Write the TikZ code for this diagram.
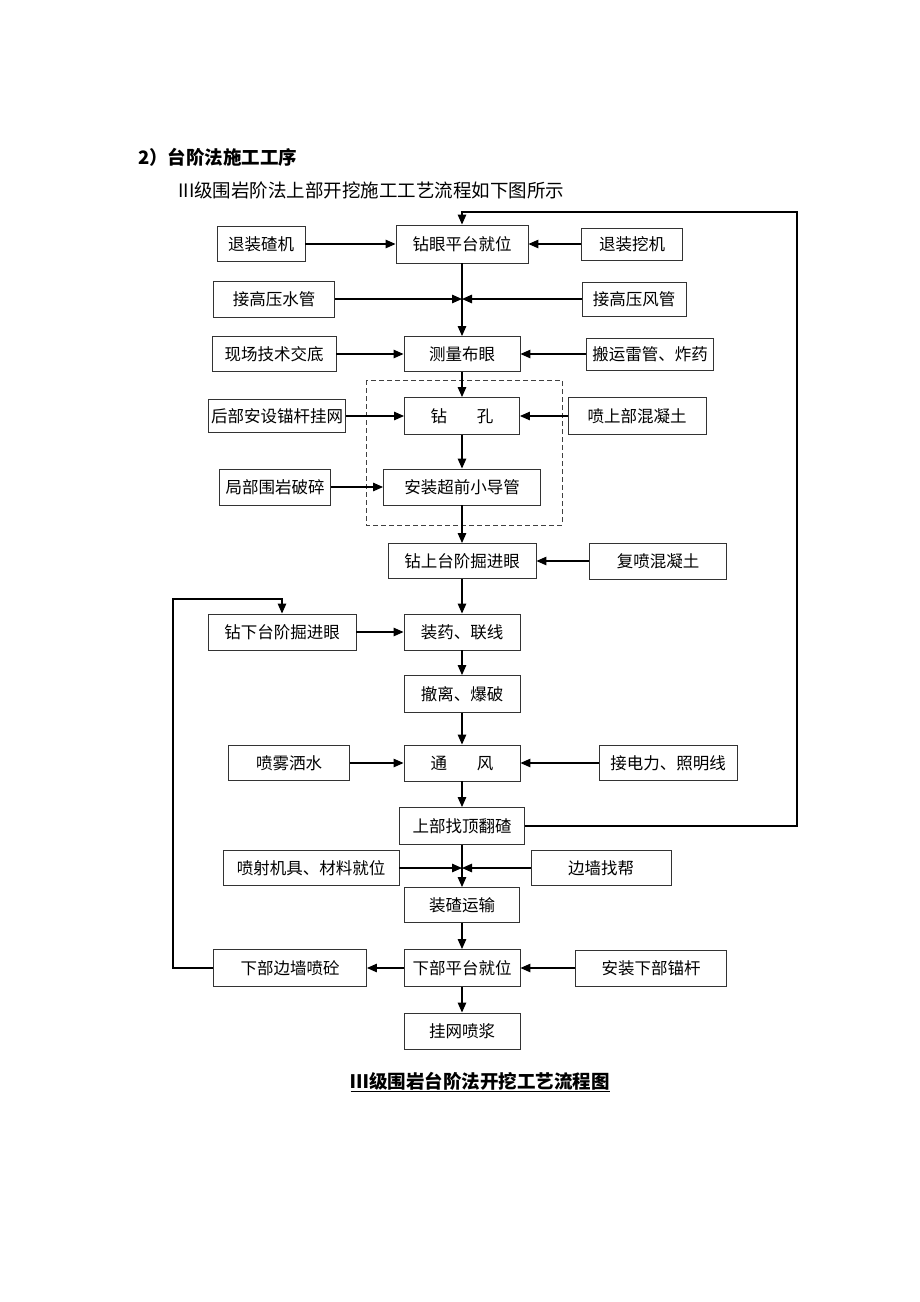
\documentclass[tikz,border=0pt]{standalone}
\usepackage{fontspec}
\usepackage{tikz}
\usetikzlibrary{arrows.meta}
\newfontfamily\cjk{Noto Sans CJK SC}
\tikzset{
    box/.style={draw=black!80, line width=0.9pt, minimum height=36pt, inner sep=2pt, font=\cjk\fontsize{16.5}{19}\selectfont},
    arr/.style={line width=1.3pt, -{Triangle[length=10pt,width=8.5pt]}},
    headtext/.style={font=\cjk\bfseries\fontsize{18.5}{21}\selectfont, inner sep=0pt},
    subtext/.style={font=\cjk\fontsize{18.5}{21}\selectfont, inner sep=0pt},
    captext/.style={font=\cjk\bfseries\fontsize{18.5}{21}\selectfont, inner sep=0pt},
}
\begin{document}
\begin{tikzpicture}[x=1pt, y=-1pt]
    \newcommand\posM{462}
    \newcommand\posR{797}
    \newcommand\posL{173}
    \useasboundingbox (0,0) rectangle (920,1302);

    \node[headtext, anchor=west] (title) at (138,157){2）台阶法施工工序};
    \node[subtext, anchor=west] (intro) at (178,190){III级围岩阶法上部开挖施工工艺流程如下图所示};

    % main column
    \node[box, minimum width=132pt, minimum height=38pt] (drillPlat) at (\posM, 244){钻眼平台就位};
    \node[box, minimum width=116pt, minimum height=35pt] (survey) at (\posM, 354){测量布眼};
    \node[box, minimum width=115pt, minimum height=37pt] (drill) at (\posM, 416){钻\hspace{1.8em}孔};
    \node[box, minimum width=157pt] (pipe) at (\posM, 487){安装超前小导管};
    \node[box, minimum width=148pt, minimum height=35pt] (upHole) at (\posM, 561){钻上台阶掘进眼};
    \node[box, minimum width=116pt] (charge) at (\posM, 632){装药、联线};
    \node[box, minimum width=116pt, minimum height=37pt] (blast) at (\posM, 694){撤离、爆破};
    \node[box, minimum width=116pt] (vent) at (\posM, 763){通\hspace{1.8em}风};
    \node[box, minimum width=125pt, minimum height=37pt] (scale) at (\posM, 826){上部找顶翻碴};
    \node[box, minimum width=115pt, minimum height=35pt] (muck) at (\posM, 905){装碴运输};
    \node[box, minimum width=116pt, minimum height=37pt] (lowPlat) at (\posM, 968){下部平台就位};
    \node[box, minimum width=116pt] (shot) at (\posM, 1031){挂网喷浆};

    \draw[dashed, dash pattern=on 5pt off 3pt, line width=0.9pt, black!75] (366,380) rectangle (562,525);

    % left column
    \node[box, minimum width=88pt, minimum height=35pt] (exitLoader) at (261,244){退装碴机};
    \node[box, minimum width=121pt] (water) at (274,299){接高压水管};
    \node[box, minimum width=124pt, minimum height=35pt] (brief) at (274,354){现场技术交底};
    \node[box, minimum width=137pt, minimum height=33pt] (bolt) at (277,416){后部安设锚杆挂网};
    \node[box, minimum width=111pt] (broken) at (275,487){局部围岩破碎};
    \node[box, minimum width=148pt] (lowHole) at (282,632){钻下台阶掘进眼};
    \node[box, minimum width=121pt, minimum height=35pt] (spray) at (289,763){喷雾洒水};
    \node[box, minimum width=176pt, minimum height=35pt] (equip) at (311,868){喷射机具、材料就位};
    \node[box, minimum width=153pt, minimum height=37pt] (wallShot) at (290,968){下部边墙喷砼};

    % right column
    \node[box, minimum width=101pt, minimum height=32pt] (exitExc) at (632,244){退装挖机};
    \node[box, minimum width=104pt, minimum height=34pt] (air) at (634,299){接高压风管};
    \node[box, minimum width=127pt, minimum height=32pt] (detonator) at (650,354){搬运雷管、炸药};
    \node[box, minimum width=138pt, minimum height=37pt] (shotTop) at (637,416){喷上部混凝土};
    \node[box, minimum width=137pt] (reshot) at (658,561){复喷混凝土};
    \node[box, minimum width=138pt, minimum height=35pt] (power) at (668,763){接电力、照明线};
    \node[box, minimum width=140pt, minimum height=35pt] (wall) at (601,868){边墙找帮};
    \node[box, minimum width=151pt] (lowBolt) at (651,968){安装下部锚杆};

    % main flow
    \draw[arr] (drillPlat) -- (survey);
    \draw[arr] (survey) -- (drill);
    \draw[arr] (drill) -- (pipe);
    \draw[arr] (pipe) -- (upHole);
    \draw[arr] (upHole) -- (charge);
    \draw[arr] (charge) -- (blast);
    \draw[arr] (blast) -- (vent);
    \draw[arr] (vent) -- (scale);
    \draw[arr] (scale) -- (muck);
    \draw[arr] (muck) -- (lowPlat);
    \draw[arr] (lowPlat) -- (shot);

    % inputs
    \coordinate (jw) at (\posM, 299);
    \coordinate (jl) at (\posM, 868);
    \draw[arr] (exitLoader) -- (drillPlat);
    \draw[arr] (exitExc) -- (drillPlat);
    \draw[arr] (water) -- (jw);
    \draw[arr] (air) -- (jw);
    \draw[arr] (brief) -- (survey);
    \draw[arr] (detonator) -- (survey);
    \draw[arr] (bolt) -- (drill);
    \draw[arr] (shotTop) -- (drill);
    \draw[arr] (broken) -- (pipe);
    \draw[arr] (reshot) -- (upHole);
    \draw[arr] (lowHole) -- (charge);
    \draw[arr] (spray) -- (vent);
    \draw[arr] (power) -- (vent);
    \draw[arr] (equip) -- (jl);
    \draw[arr] (wall) -- (jl);
    \draw[arr] (lowBolt) -- (lowPlat);
    \draw[arr] (lowPlat) -- (wallShot);

    % loops
    \coordinate (topR) at (\posR, 212);
    \coordinate (botL) at (\posL, 599);
    \draw[arr] (scale.east) -| (topR) -| (drillPlat.north);
    \draw[arr] (wallShot.west) -| (botL) -| (lowHole.north);

    \node[captext] (caption) at (480,1082){\underline{Ⅲ级围岩台阶法开挖工艺流程图}};
\end{tikzpicture}
\end{document}
